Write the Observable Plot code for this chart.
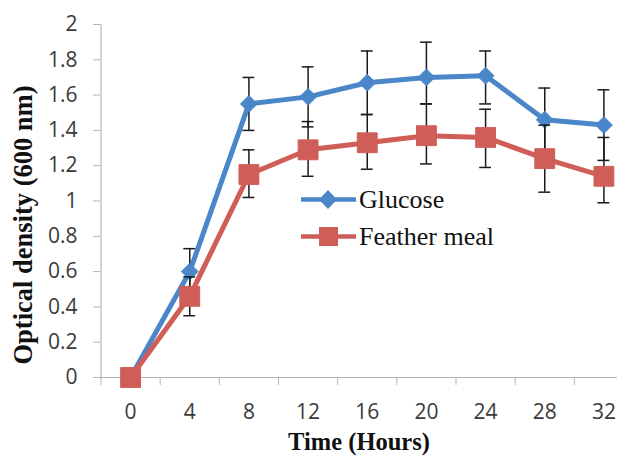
<!DOCTYPE html>
<html><head><meta charset="utf-8">
<script src="https://cdn.jsdelivr.net/npm/d3@7"></script>
<script src="https://cdn.jsdelivr.net/npm/@observablehq/plot@0.6"></script>
<style>
body{margin:0;background:#fff;}
#wrap{position:relative;width:617px;height:460px;overflow:hidden;}
.lg{position:absolute;left:300px;height:37px;line-height:37px;display:flex;align-items:center;font-family:"Liberation Serif","Times New Roman",serif;font-size:26px;color:#111;white-space:nowrap;}
.lg svg{display:block;margin-right:2px;}
</style></head><body><div id="wrap"></div>
<script>
const hours = [0, 4, 8, 12, 16, 20, 24, 28, 32];
const seriesNames = ["Glucose", "Feather meal"];
const glucose     = [0, 0.60, 1.55, 1.59, 1.67, 1.70, 1.71, 1.46, 1.43];
const glucoseLow  = [0, 0.47, 1.40, 1.42, 1.49, 1.55, 1.55, 1.28, 1.23];
const glucoseHigh = [0, 0.73, 1.70, 1.76, 1.85, 1.90, 1.85, 1.64, 1.63];
const feather     = [0, 0.46, 1.15, 1.29, 1.33, 1.37, 1.36, 1.24, 1.14];
const featherLow  = [0, 0.35, 1.02, 1.14, 1.18, 1.21, 1.19, 1.05, 0.99];
const featherHigh = [0, 0.57, 1.29, 1.45, 1.49, 1.55, 1.52, 1.43, 1.36];
const yTicks = [0, 0.2, 0.4, 0.6, 0.8, 1, 1.2, 1.4, 1.6, 1.8, 2];
const yTickLabels = ["0", "0.2", "0.4", "0.6", "0.8", "1", "1.2", "1.4", "1.6", "1.8", "2"];
const xBoundaries = [-2, 2, 6, 10, 14, 18, 22, 26, 30, 34];
const xTitle = "Time (Hours)";
const yTitle = "Optical density (600 nm)";

const BLUE = "#4a86c8", RED = "#d05e58", AXIS = "#b5b5b5";
const rowsG = hours.map((h, i) => ({h, v: glucose[i], lo: glucoseLow[i], hi: glucoseHigh[i]}));
const rowsF = hours.map((h, i) => ({h, v: feather[i], lo: featherLow[i], hi: featherHigh[i]}));
const capHalf = 0.4;

function seriesMarks(rows, color, symbol, r) {
  const eb = rows.filter(d => d.hi > d.lo);
  return [
    Plot.line(rows, {x: "h", y: "v", stroke: color, strokeWidth: 5, strokeLinejoin: "round"}),
    Plot.ruleX(eb, {x: "h", y1: "lo", y2: "hi", stroke: "#1a1a1a", strokeWidth: 1.5}),
    Plot.ruleY(eb, {y: "hi", x1: d => d.h - capHalf, x2: d => d.h + capHalf, stroke: "#1a1a1a", strokeWidth: 1.5}),
    Plot.ruleY(eb, {y: "lo", x1: d => d.h - capHalf, x2: d => d.h + capHalf, stroke: "#1a1a1a", strokeWidth: 1.5}),
    Plot.dot(rows, {x: "h", y: "v", symbol, r, fill: color, stroke: color, strokeWidth: 1})
  ];
}

const chart = Plot.plot({
  width: 617, height: 460,
  marginLeft: 100, marginRight: 0, marginTop: 24, marginBottom: 83,
  x: {domain: [-2, 34], range: [100.5, 633]},
  y: {domain: [0, 2]},
  style: {fontFamily: '"Open Sans", sans-serif', fontSize: "21px", background: "white", overflow: "visible"},
  marks: [
    Plot.ruleX([xBoundaries[0]], {stroke: AXIS, strokeWidth: 1.2}),
    Plot.ruleY([0], {stroke: AXIS, strokeWidth: 1.2}),
    Plot.axisY({ticks: yTicks, tickSize: 7, tickPadding: 16, tickFormat: d => yTickLabels[yTicks.indexOf(d)], stroke: AXIS, fill: "#3a3a3a", label: null}),
    Plot.axisX({ticks: xBoundaries, tickSize: 8, tickFormat: () => "", stroke: AXIS, label: null}),
    Plot.axisX({ticks: hours, tickSize: 0, tickPadding: 27, tickFormat: d => String(d), fill: "#3a3a3a", label: null}),
    ...seriesMarks(rowsG, BLUE, "diamond2", 7.6),
    ...seriesMarks(rowsF, RED, "square", 11.2),
    Plot.text([xTitle], {frameAnchor: "bottom", dy: 72, fontFamily: '"Liberation Serif", "Times New Roman", serif', fontWeight: "bold", fontSize: 24.5, fill: "#111"}),
    Plot.text([yTitle], {frameAnchor: "left", textAnchor: "middle", rotate: -90, dx: -77, dy: 24, fontFamily: '"Liberation Serif", "Times New Roman", serif', fontWeight: "bold", fontSize: 26.5, fill: "#111"})
  ]
});
const wrap = document.getElementById("wrap");
wrap.appendChild(chart);

// legend
const legendDefs = [
  {name: seriesNames[0], color: BLUE, shape: "diamond", top: 180.5},
  {name: seriesNames[1], color: RED, shape: "square", top: 217.5}
];
legendDefs.forEach(d => {
  const div = document.createElement("div");
  div.className = "lg";
  div.style.top = d.top + "px";
  const marker = d.shape === "diamond"
    ? `<path d="M28,9 L37,18.5 L28,28 L19,18.5 Z" fill="${d.color}"/>`
    : `<rect x="19" y="9" width="19" height="19" fill="${d.color}"/>`;
  div.innerHTML = `<svg width="57" height="37"><line x1="1" y1="18.5" x2="56" y2="18.5" stroke="${d.color}" stroke-width="4.5"/>${marker}</svg><span>${d.name}</span>`;
  wrap.appendChild(div);
});
</script>
</body></html>
